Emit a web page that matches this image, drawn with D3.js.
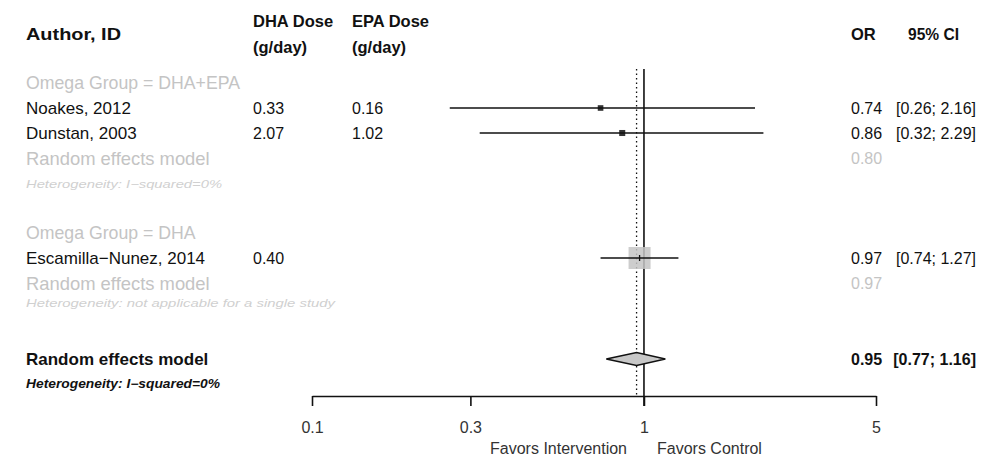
<!DOCTYPE html>
<html>
<head>
<meta charset="utf-8">
<script src="https://cdn.jsdelivr.net/npm/d3@7/dist/d3.min.js"></script>
<style>
  html, body { margin: 0; padding: 0; background: #fff; }
  svg { display: block; font-family: "Liberation Sans", Arial, Helvetica, sans-serif; }
</style>
</head>
<body>
<svg id="chart" width="984" height="456"></svg>
<script>
// Studies
const studies   = ["Noakes, 2012", "Dunstan, 2003", "Escamilla\u2212Nunez, 2014"];
const groups    = ["DHA+EPA", "DHA+EPA", "DHA"];
const dhaDose   = ["0.33", "2.07", "0.40"];
const epaDose   = ["0.16", "1.02", ""];
const orValue   = [0.74, 0.86, 0.97];
const ciLower   = [0.26, 0.32, 0.74];
const ciUpper   = [2.16, 2.29, 1.27];

// Subgroup and overall random effects estimates
const subgroupNames = ["DHA+EPA", "DHA"];
const subgroupOR    = [0.80, 0.97];
const subgroupHet   = ["Heterogeneity: I\u2212squared=0%", "Heterogeneity: not applicable for a single study"];
const overallOR     = 0.95;
const overallLower  = 0.77;
const overallUpper  = 1.16;
const overallHet    = "Heterogeneity: I\u2212squared=0%";

// Axis
const axisTicks  = [0.1, 0.3, 1, 5];
const tickLabels = ["0.1", "0.3", "1", "5"];

const svg = d3.select("#chart");
const fmt = d3.format(".2f");

const x = d3.scaleLog().domain([0.1, 5]).range([312, 876]);
// row index -> vertical position
const y = d3.scaleLinear().domain([0, 12]).range([83, 383]);

const DARK = "#111";
const FADE = "#c4c4c4";
const FADE2 = "#d0d0d0";

const colAuthor = 26, colDHA = 253, colEPA = 352, colOR = 851, colCIright = 976;

function text(xp, yp, s, opts = {}) {
  const t = svg.append("text")
    .attr("x", xp).attr("y", yp)
    .attr("dominant-baseline", "central")
    .attr("text-anchor", opts.anchor || "start")
    .attr("font-size", opts.size || 17)
    .attr("font-weight", opts.weight || "normal")
    .attr("font-style", opts.style || "normal")
    .attr("fill", opts.fill || DARK)
    .text(s);
  if (opts.length) {
    t.attr("textLength", opts.length).attr("lengthAdjust", "spacingAndGlyphs");
  }
  return t;
}

// Column headers
text(colAuthor, 34, "Author, ID", { weight: "bold", size: 17, length: 95 });
text(colDHA, 21, "DHA Dose", { weight: "bold", size: 16.5 });
text(colDHA, 47, "(g/day)", { weight: "bold", size: 16.5 });
text(colEPA, 21, "EPA Dose", { weight: "bold", size: 16.5 });
text(colEPA, 47, "(g/day)", { weight: "bold", size: 16.5 });
text(colOR, 34, "OR", { weight: "bold", size: 16.5 });
text(908, 34, "95% CI", { weight: "bold", size: 16.5, length: 51 });

// Row layout
const studyRow = [1, 2, 7];
const headerRow = [0, 6];
const reRow = [3, 8];
const hetRow = [4.04, 8.78];
const hetLength = [196, 309];
const overallRow = 11.04, overallHetRow = 12.04;

// Reference lines: no effect (solid) and overall estimate (dotted)
svg.append("line")
  .attr("x1", x(1)).attr("x2", x(1))
  .attr("y1", 69).attr("y2", 406)
  .attr("stroke", DARK).attr("stroke-width", 1.6);
svg.append("line")
  .attr("x1", x(overallOR)).attr("x2", x(overallOR))
  .attr("y1", 69).attr("y2", 396)
  .attr("stroke", DARK).attr("stroke-width", 1.3)
  .attr("stroke-dasharray", "1.5,3");

// Subgroup headings, pooled labels and heterogeneity
subgroupNames.forEach((g, i) => {
  text(colAuthor, y(headerRow[i]), "Omega Group = " + g, { fill: FADE, size: 17.7 });
  text(colAuthor, y(reRow[i]), "Random effects model", { fill: FADE, size: 18.4 });
  text(colOR, y(reRow[i]), fmt(subgroupOR[i]), { fill: FADE, size: 16 });
  text(colAuthor, y(hetRow[i]), subgroupHet[i], { fill: FADE2, size: 11.5, style: "italic", length: hetLength[i] });
});

// Study weights from CI width (inverse variance)
const weights = ciLower.map((l, i) => {
  const se = (Math.log(ciUpper[i]) - Math.log(l)) / (2 * 1.96);
  return 1 / (se * se);
});
const boxSize = d3.scaleSqrt().domain([0, d3.max(weights)]).range([0, 22]);

studies.forEach((s, i) => {
  const yy = y(studyRow[i]);
  text(colAuthor, yy, s, { size: 17 });
  text(colDHA, yy, dhaDose[i], { size: 16 });
  text(colEPA, yy, epaDose[i], { size: 16 });
  text(colOR, yy, fmt(orValue[i]), { size: 16 });
  text(colCIright, yy, "[" + fmt(ciLower[i]) + "; " + fmt(ciUpper[i]) + "]", { size: 16, anchor: "end" });

  const sz = Math.max(4.5, boxSize(weights[i]));
  const big = sz > 10;
  svg.append("rect")
    .attr("x", x(orValue[i]) - sz / 2).attr("y", yy - sz / 2)
    .attr("width", sz).attr("height", sz)
    .attr("fill", big ? "#c4c4c4" : "#333")
    .attr("opacity", big ? 0.85 : 1);
  svg.append("line")
    .attr("x1", x(ciLower[i])).attr("x2", x(ciUpper[i]))
    .attr("y1", yy).attr("y2", yy)
    .attr("stroke", DARK).attr("stroke-width", 1.5);
  if (big) {
    svg.append("line")
      .attr("x1", x(orValue[i])).attr("x2", x(orValue[i]))
      .attr("y1", yy - 3).attr("y2", yy + 3)
      .attr("stroke", DARK).attr("stroke-width", 1.3);
  }
});

// Overall random effects model
const yo = y(overallRow);
text(colAuthor, yo, "Random effects model", { weight: "bold", size: 17 });
text(colOR, yo, fmt(overallOR), { weight: "bold", size: 16 });
text(colCIright, yo, "[" + fmt(overallLower) + "; " + fmt(overallUpper) + "]", { weight: "bold", size: 16, anchor: "end" });
text(colAuthor, y(overallHetRow), overallHet, { weight: "bold", style: "italic", size: 12, length: 194 });

const dh = 6.5;
svg.append("path")
  .attr("d", d3.line()([
    [x(overallLower), yo],
    [x(overallOR), yo - dh],
    [x(overallUpper), yo],
    [x(overallOR), yo + dh]
  ]) + "Z")
  .attr("fill", "#c8c8c8")
  .attr("stroke", DARK).attr("stroke-width", 1.3);

// Bottom axis
const axis = d3.axisBottom(x)
  .tickValues(axisTicks)
  .tickFormat((d, i) => tickLabels[i])
  .tickSizeOuter(0)
  .tickSizeInner(10)
  .tickPadding(16);
const ag = svg.append("g").attr("transform", "translate(0,396)").call(axis);
ag.select(".domain").attr("stroke", DARK).attr("stroke-width", 1.6);
ag.selectAll(".tick line").attr("stroke", DARK).attr("stroke-width", 1.6);
ag.selectAll(".tick text")
  .attr("font-size", 16)
  .attr("font-family", "Liberation Sans, Arial, sans-serif")
  .attr("fill", "#333");

text(627, 448, "Favors Intervention", { size: 16, anchor: "end", fill: "#333" });
text(657, 448, "Favors Control", { size: 16, fill: "#333" });
</script>
</body>
</html>
